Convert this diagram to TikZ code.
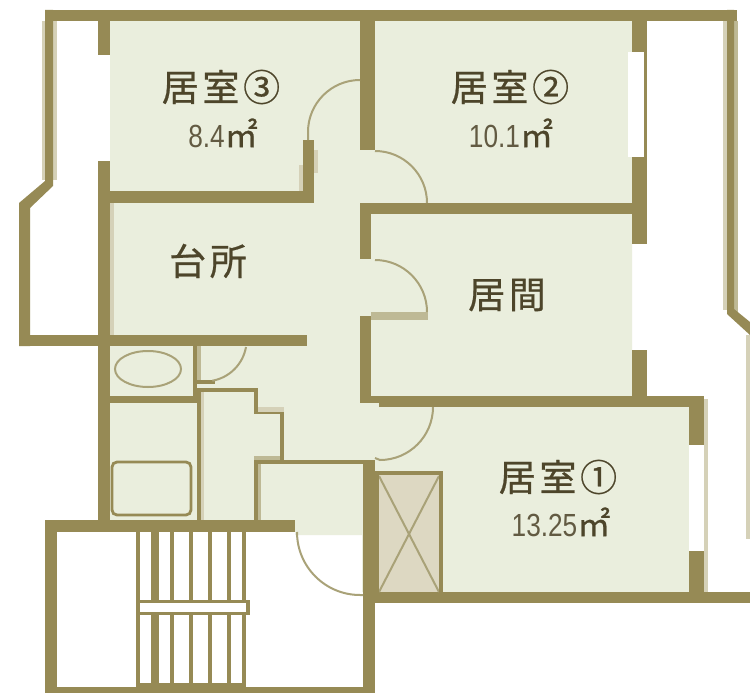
\documentclass[tikz,border=0pt]{standalone}
\usepackage{fontspec}
\newfontfamily\roomfont[LetterSpace=10,FakeBold=0.6]{Noto Sans CJK JP}
\newfontfamily\sqmfont[FakeBold=0.6]{Noto Sans CJK JP}
\newfontfamily\areafont[FakeStretch=0.82]{Liberation Sans}
\definecolor{wallcol}{HTML}{968A55}
\definecolor{softcol}{HTML}{D5D1B8}
\definecolor{leafcol}{HTML}{BEB995}
\definecolor{doorcol}{HTML}{A9A278}
\definecolor{floorcol}{HTML}{EAEEDD}
\definecolor{closetcol}{HTML}{DDD8C2}
\definecolor{textcol}{HTML}{4D452A}
\definecolor{digitcol}{HTML}{625A42}
\tikzset{
  wall/.style={fill=wallcol, draw=none},
  softwall/.style={fill=softcol, draw=none},
  doorarc/.style={draw=doorcol, line width=2pt},
  roomlabel/.style={text=textcol, font=\roomfont\fontsize{37}{37}\selectfont, inner sep=0pt},
  arealabel/.style={text=digitcol, font=\areafont\fontsize{32}{32}\selectfont, inner sep=0pt},
}
\newcommand{\sqm}{\textcolor{textcol}{\sqmfont\fontsize{33}{33}\selectfont ㎡}}
\begin{document}
\begin{tikzpicture}[x=1pt, y=1pt, yscale=-1]
  \useasboundingbox (0,0) rectangle (750,693);
  \fill[white] (0,0) rectangle (750,693);
  \fill[floorcol] (110,21) -- (632,21) -- (632,400) -- (695,400) -- (695,592) -- (362,592)
    -- (362,535) -- (295,535) -- (295,525) -- (110,525) -- cycle;
  \fill[softwall] (42,21) rectangle (57,180);
  \fill[softwall] (723,21) rectangle (727,310);
  \fill[leafcol] (734,21) rectangle (738,312);
  \fill[softwall] (746,335) rectangle (750,539);
  \fill[softwall] (704,399) rectangle (708,592);
  \fill[softwall] (110,203) rectangle (114,335);
  \fill[softwall] (299,165) rectangle (303,191);
  \fill[softwall] (314,150) rectangle (318,173);
  \fill[softwall] (254,407) rectangle (284,412);
  \fill[leafcol] (254,456) rectangle (280,460);
  \fill[leafcol] (197,346) rectangle (201,382);
  \fill[leafcol] (258,464) rectangle (261,520);
  \fill[softwall] (201,392) rectangle (204,520);
  \fill[wall] (45,10) rectangle (737,21);
  \fill[wall] (45,10) -- (53,10) -- (53,186) -- (30,208) -- (30,346) -- (19,346) -- (19,203) -- (45,181) -- cycle;
  \fill[wall] (19,335) rectangle (307,346);
  \fill[wall] (727,10) -- (734,10) -- (734,309) -- (750,322) -- (750,335) -- (727,314) -- cycle;
  \fill[wall] (98,10) rectangle (110,520);
  \fill[white] (98,55) rectangle (110,161);
  \fill[wall] (98,191) rectangle (314,203);
  \fill[wall] (303,140) rectangle (314,203);
  \fill[wall] (360,10) rectangle (375,150);
  \fill[wall] (360,203) rectangle (632,214);
  \fill[wall] (360,207) rectangle (371,259);
  \fill[wall] (360,316) rectangle (371,402);
  \fill[wall] (632,10) rectangle (647,244);
  \fill[white] (628,52) rectangle (644,157);
  \fill[wall] (632,350) rectangle (647,397);
  \fill[wall] (360,396) rectangle (704,403);
  \fill[wall] (379,403) rectangle (704,407);
  \fill[wall] (689,396) rectangle (704,598);
  \fill[white] (689,445) rectangle (704,551);
  \fill[wall] (363,592) rectangle (750,603);
  \fill[wall] (363,460) rectangle (375,693);
  \fill[wall] (110,396) rectangle (201,403);
  \fill[wall] (193,346) rectangle (197,396);
  \fill[wall] (197,380) rectangle (215,384);
  \fill[wall] (197,388) rectangle (201,520);
  \fill[wall] (197,388) rectangle (257,392);
  \fill[wall] (254,388) rectangle (258,414);
  \fill[wall] (254,412) rectangle (284,414);
  \fill[wall] (280,412) rectangle (284,464);
  \fill[wall] (254,460) rectangle (363,464);
  \fill[wall] (254,460) rectangle (258,520);
  \fill[wall] (45,520) rectangle (295,532);
  \fill[wall] (45,520) rectangle (57,693);
  \fill[wall] (45,687) rectangle (375,693);
  \fill[leafcol] (371,312) rectangle (428,320);
  \fill[closetcol] (375,471) rectangle (443,592);
  \draw[doorcol, line width=2pt] (379,476) -- (439,592);
  \draw[doorcol, line width=2pt] (439,476) -- (379,592);
  \fill[wall] (375,471) rectangle (443,475);
  \fill[wall] (439,471) rectangle (443,592);
  \fill[wall] (375,471) rectangle (379,592);
  \draw[doorarc] (360,80) arc[start angle=270, end angle=180, radius=52pt] -- (308,140);
  \draw[doorarc] (375,151) arc[start angle=270, end angle=360, radius=52pt];
  \draw[doorarc] (375,260) arc[start angle=270, end angle=360, radius=52pt];
  \draw[doorarc] (433,407) arc[start angle=0, end angle=90, radius=53pt] -- (375,458);
  \draw[doorarc] (246,347) arc[start angle=10, end angle=80, radius=41.6pt];
  \draw[doorarc] (297,532) arc[start angle=180, end angle=90, radius=63pt] -- (363,595);
  \draw[doorarc] (148,369) ellipse[x radius=33pt, y radius=18pt];
  \draw[wallcol, line width=2.8pt, rounded corners=5pt, fill=floorcol] (112,462) rectangle (191,515);
  \foreach \stairx in {138,172,191,210,229,244} {
    \draw[wallcol, line width=4pt] (\stairx,532) -- (\stairx,687);
  }
  \fill[wall] (151,532) rectangle (159,687);
  \fill[wall] (136,683) rectangle (246,687);
  \draw[wallcol, line width=3.4pt, fill=white] (138,601.7) rectangle (248,613.3);
  \node[roomlabel] (room3) at (221,87) {居室③};
  \node[roomlabel] (room2) at (510,87) {居室②};
  \node[roomlabel] (room1) at (558,477) {居室①};
  \node[roomlabel] (living) at (507,295) {居間};
  \node[roomlabel] (kitchen) at (208,261) {台所};
  \node[arealabel] (area3) at (223,133) {8.4\sqm};
  \node[arealabel] (area2) at (511,133) {10.1\sqm};
  \node[arealabel] (area1) at (561,522) {13.25\sqm};
\end{tikzpicture}
\end{document}
